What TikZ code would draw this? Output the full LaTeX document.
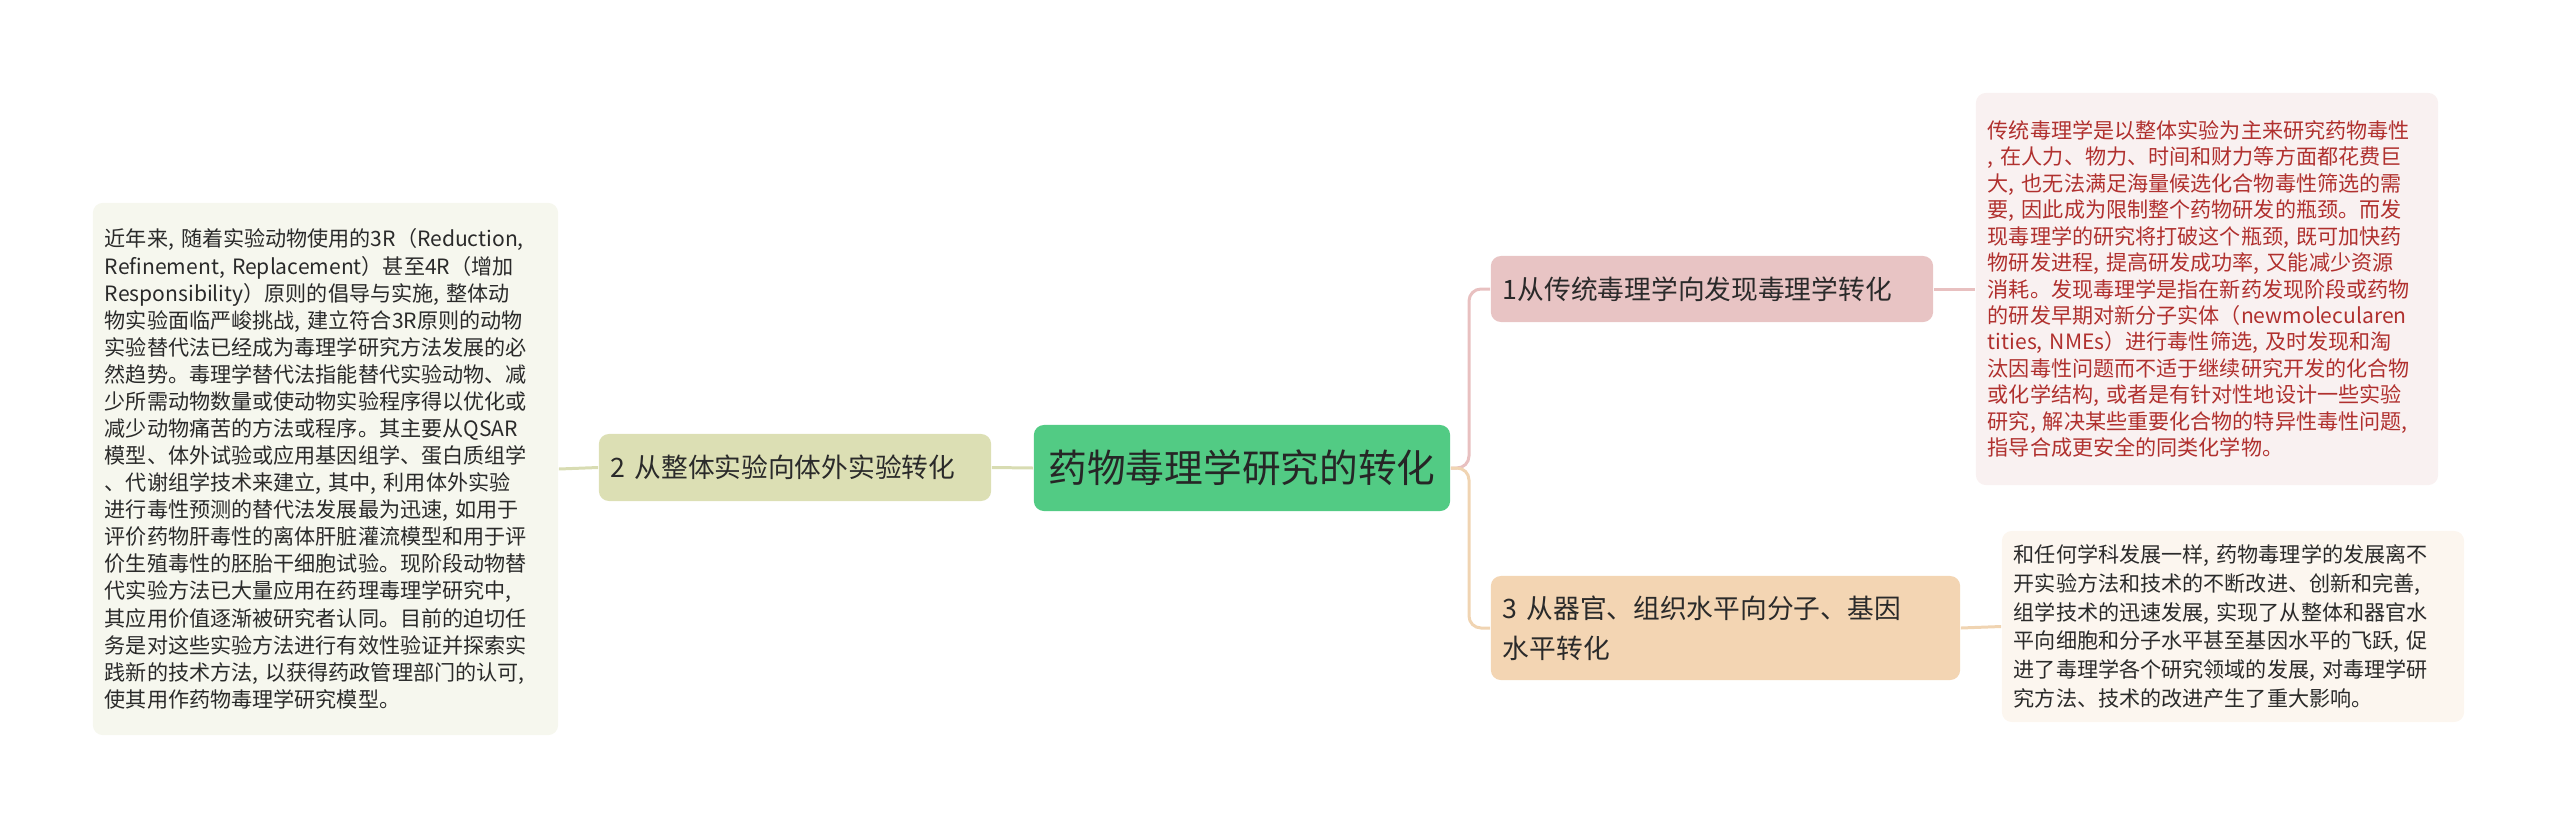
\documentclass[tikz,border=0pt]{standalone}
\usepackage{fontspec}
\setmainfont{Noto Sans CJK SC}
\definecolor{cgreen}{HTML}{52CB84}
\definecolor{cpink}{HTML}{E8C4C4}
\definecolor{ctan}{HTML}{F3D5B3}
\definecolor{colive}{HTML}{DCDFB4}
\definecolor{tpink}{HTML}{F9F1F1}
\definecolor{ttan}{HTML}{FCF6EF}
\definecolor{tolive}{HTML}{F6F7EE}
\definecolor{tred}{HTML}{B0302E}
\definecolor{lpink}{HTML}{E8C0C0}
\definecolor{ltan}{HTML}{F0D4B2}
\definecolor{lolive}{HTML}{D8DCB2}
\definecolor{tdark}{HTML}{2A2A2A}
\begin{document}
\begin{tikzpicture}[x=0.01cm,y=-0.01cm,
  box/.style={rounded corners=0.1cm,inner xsep=0.12cm,inner ysep=0pt,align=left,text=tdark},
  branch/.style={box,font=\fontsize{7.6}{11.5}\selectfont},
  note/.style={box,font=\fontsize{6}{7.52}\selectfont},
  link/.style={line width=0.85pt,rounded corners=0.12cm}]
\useasboundingbox (0,0) rectangle (2560,830);
\node[box,fill=cgreen,minimum width=4.16cm,minimum height=0.86cm,align=center,font=\fontsize{11}{14}\selectfont,text=black!85] (c) at (1242,468) {药物毒理学研究的转化};
\node[branch,fill=cpink,minimum height=0.66cm,text width=4.18cm] (n1) at (1712,289) {1从传统毒理学向发现毒理学转化};
\node[branch,fill=ctan,minimum height=1.04cm,text width=4.45cm] (n3) at (1725.5,628) {3 从器官、组织水平向分子、基因\\水平转化};
\node[branch,fill=colive,minimum height=0.67cm,text width=3.68cm] (n2) at (795,467.5) {2 从整体实验向体外实验转化};
\node[note,fill=tpink,text=tred,minimum height=3.92cm,text width=4.38cm] (t1) at (2207,289) {传统毒理学是以整体实验为主来研究药物毒性\\, 在人力、物力、时间和财力等方面都花费巨\\大, 也无法满足海量候选化合物毒性筛选的需\\要, 因此成为限制整个药物研发的瓶颈。而发\\现毒理学的研究将打破这个瓶颈, 既可加快药\\物研发进程, 提高研发成功率, 又能减少资源\\消耗。发现毒理学是指在新药发现阶段或药物\\的研发早期对新分子实体（newmolecularen\\tities, NMEs）进行毒性筛选, 及时发现和淘\\汰因毒性问题而不适于继续研究开发的化合物\\或化学结构, 或者是有针对性地设计一些实验\\研究, 解决某些重要化合物的特异性毒性问题,\\ 指导合成更安全的同类化学物。};
\node[note,fill=ttan,minimum height=1.91cm,text width=4.38cm,font=\fontsize{6}{8.2}\selectfont] (t3) at (2233,626.5) {和任何学科发展一样, 药物毒理学的发展离不\\开实验方法和技术的不断改进、创新和完善,\\组学技术的迅速发展, 实现了从整体和器官水\\平向细胞和分子水平甚至基因水平的飞跃, 促\\进了毒理学各个研究领域的发展, 对毒理学研\\究方法、技术的改进产生了重大影响。};
\node[note,fill=tolive,minimum height=5.32cm,text width=4.41cm,font=\fontsize{6}{7.7}\selectfont] (t2) at (325.5,469) {近年来, 随着实验动物使用的3R（Reduction,\\Refinement, Replacement）甚至4R（增加\\Responsibility）原则的倡导与实施, 整体动\\物实验面临严峻挑战, 建立符合3R原则的动物\\实验替代法已经成为毒理学研究方法发展的必\\然趋势。毒理学替代法指能替代实验动物、减\\少所需动物数量或使动物实验程序得以优化或\\减少动物痛苦的方法或程序。其主要从QSAR\\模型、体外试验或应用基因组学、蛋白质组学\\、代谢组学技术来建立, 其中, 利用体外实验\\进行毒性预测的替代法发展最为迅速, 如用于\\评价药物肝毒性的离体肝脏灌流模型和用于评\\价生殖毒性的胚胎干细胞试验。现阶段动物替\\代实验方法已大量应用在药理毒理学研究中,\\其应用价值逐渐被研究者认同。目前的迫切任\\务是对这些实验方法进行有效性验证并探索实\\践新的技术方法, 以获得药政管理部门的认可,\\使其用作药物毒理学研究模型。};
\coordinate (j) at (1469,468);
\draw[link,draw=lpink] (c.east) -- (j) |- (n1.west);
\draw[link,draw=ltan] (c.east) -- (j) |- (n3.west);
\draw[link,draw=lolive] (c.west) -- (n2.east);
\draw[link,draw=lolive] (n2.west) -- (t2.east);
\draw[link,draw=lpink] (n1.east) -- (t1.west);
\draw[link,draw=ltan] (n3.east) -- (t3.west);
\end{tikzpicture}
\end{document}
